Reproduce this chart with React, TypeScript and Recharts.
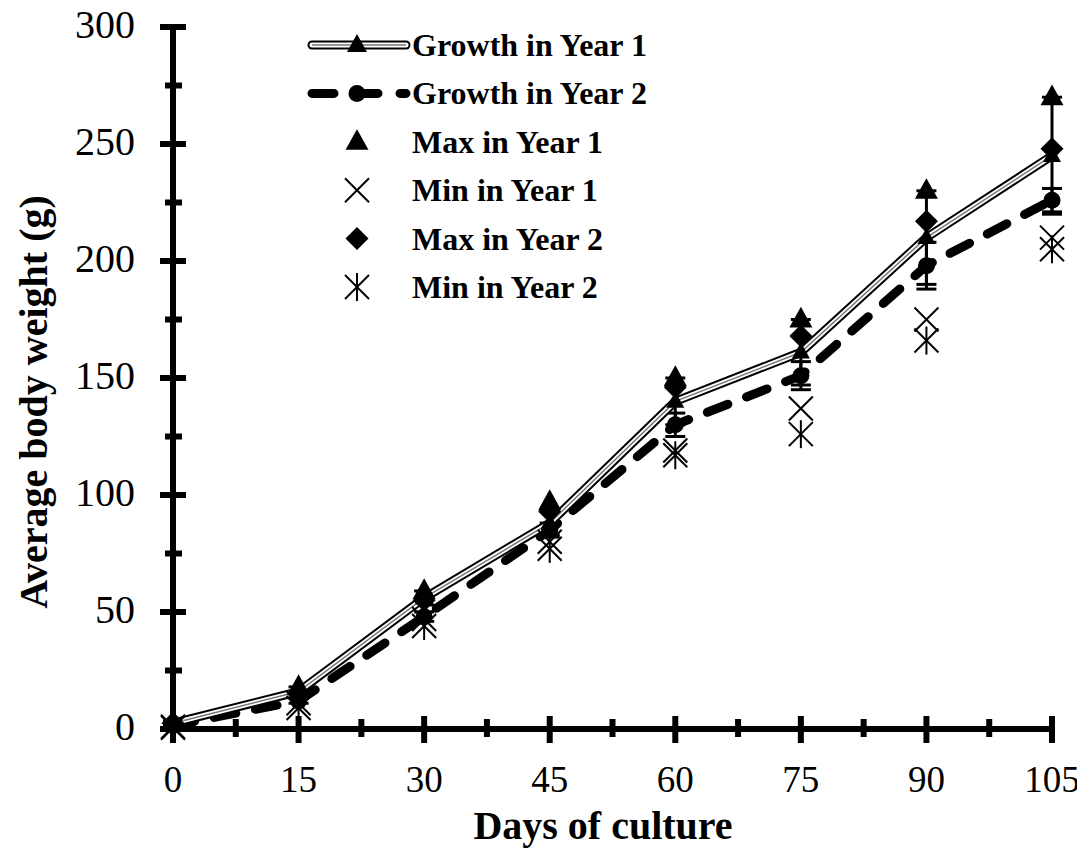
import React from 'react';
import { ComposedChart, Line, XAxis, YAxis, ErrorBar, Legend, Label } from 'recharts';

const FONT = '"Liberation Serif", "Times New Roman", serif';

// days of culture
const days = [0, 15, 30, 45, 60, 75, 90, 105];

// mean body weight (g) and error
const growthYear1 = [2.5, 16, 56, 88, 140, 161, 210, 245];
const growthYear2 = [1.5, 12, 48, 85, 130, 151, 198, 226];
const errYear1 = [1, 2, 3, 5, 10, 14, 20, 25];
const errYear2 = [0.5, 1, 2, 3, 5, 6, 10, 5];

// extremes
const maxYear1 = [3, 18, 59, 97, 150, 175, 230, 270];
const minYear1 = [1, 11, 47, 80, 119, 137, 175, 210];
const maxYear2 = [2.5, 15, 55, 93, 146, 168, 217, 248];
const minYear2 = [0.5, 9, 44, 77, 117, 126, 166, 205];

const xTicks = [0, 7.5, 15, 22.5, 30, 37.5, 45, 52.5, 60, 67.5, 75, 82.5, 90, 97.5, 105];
const xLabels = [0, 15, 30, 45, 60, 75, 90, 105];
const yTicks = [0, 25, 50, 75, 100, 125, 150, 175, 200, 225, 250, 275, 300];
const yLabels = [0, 50, 100, 150, 200, 250, 300];

const legendNames = ['Growth in Year 1', 'Growth in Year 2', 'Max in Year 1', 'Min in Year 1', 'Max in Year 2', 'Min in Year 2'];
const legendKinds = ['line1', 'line2', 'tri', 'cross', 'diamond', 'star'];

const data = days.map((d, i) => ({
  day: d,
  g1: growthYear1[i],
  g2: growthYear2[i],
  e1: errYear1[i],
  e2: errYear2[i],
  max1: maxYear1[i],
  min1: minYear1[i],
  max2: maxYear2[i],
  min2: minYear2[i],
}));

const shape = (kind: string, cx: number, cy: number, s: number) => {
  const h = s / 2;
  if (kind === 'tri')
    return <polygon points={`${cx},${cy - s * 0.55} ${cx - h},${cy + s * 0.35} ${cx + h},${cy + s * 0.35}`} fill="#000" />;
  if (kind === 'diamond')
    return <polygon points={`${cx},${cy - h} ${cx + h},${cy} ${cx},${cy + h} ${cx - h},${cy}`} fill="#000" />;
  if (kind === 'circle') return <circle cx={cx} cy={cy} r={h} fill="#000" />;
  const lines = [
    <line key="a" x1={cx - h} y1={cy - h} x2={cx + h} y2={cy + h} stroke="#000" strokeWidth={2} />,
    <line key="b" x1={cx - h} y1={cy + h} x2={cx + h} y2={cy - h} stroke="#000" strokeWidth={2} />,
  ];
  if (kind === 'star') lines.push(<line key="c" x1={cx} y1={cy - h - 2} x2={cx} y2={cy + h + 2} stroke="#000" strokeWidth={2} />);
  return <g>{lines}</g>;
};

const makeDot = (kind: string, size: number) => (props: any) => {
  const { cx, cy, index } = props;
  if (cx == null || cy == null) return <g key={`${kind}-${index}`} />;
  return <g key={`${kind}-${index}`}>{shape(kind, cx, cy, size)}</g>;
};

const XTick = (props: any) => {
  const { x, y, payload } = props;
  const major = xLabels.includes(payload.value);
  return (
    <g>
      <line x1={x} x2={x} y1={y - (major ? 13 : 10)} y2={y + (major ? 14 : 8)} stroke="#000" strokeWidth={6} />
      {major && (
        <text x={x} y={y + 63} textAnchor="middle" fontSize={37} fontFamily={FONT} fill="#000">
          {payload.value}
        </text>
      )}
    </g>
  );
};

const YTick = (props: any) => {
  const { x, y, payload } = props;
  const major = yLabels.includes(payload.value);
  return (
    <g>
      <line x1={x - (major ? 13 : 8)} x2={x + (major ? 13 : 9)} y1={y} y2={y} stroke="#000" strokeWidth={6} />
      {major && (
        <text x={x - 38} y={y + 11} textAnchor="end" fontSize={40} fontFamily={FONT} fill="#000">
          {payload.value}
        </text>
      )}
    </g>
  );
};

const LegendBox = () => {
  const rowY = (i: number) => 25 + i * 48.4;
  return (
    <svg width={380} height={290} style={{ overflow: 'visible' }}>
      {legendNames.map((name, i) => {
        const y = rowY(i);
        const kind = legendKinds[i];
        let sample: React.ReactNode;
        if (kind === 'line1') {
          sample = (
            <g>
              <line x1={12} x2={106} y1={y} y2={y} stroke="#000" strokeWidth={9} strokeLinecap="round" />
              <line x1={12} x2={106} y1={y} y2={y} stroke="#fff" strokeWidth={5} strokeLinecap="round" />
              <line x1={12} x2={106} y1={y} y2={y} stroke="#777" strokeWidth={1.5} />
              {shape('tri', 57, y, 20)}
            </g>
          );
        } else if (kind === 'line2') {
          sample = (
            <g>
              <line x1={12} x2={106} y1={y} y2={y} stroke="#000" strokeWidth={9} strokeLinecap="round" strokeDasharray="22 22" />
              {shape('circle', 57, y, 17)}
            </g>
          );
        } else {
          sample = shape(kind, 57, y, kind === 'tri' || kind === 'diamond' ? 23 : 24);
        }
        return (
          <g key={name}>
            {sample}
            <text x={112} y={y + 11} fontSize={32} fontWeight="bold" fontFamily={FONT} fill="#000">
              {name}
            </text>
          </g>
        );
      })}
    </svg>
  );
};

export default function App() {
  return (
    <div style={{ margin: -8 }}>
      <ComposedChart
        width={1085}
        height={859}
        data={data}
        margin={{ top: 27, right: 33, bottom: 70, left: 93 }}
      >
        <XAxis
          dataKey="day"
          type="number"
          domain={[0, 105]}
          ticks={xTicks}
          interval={0}
          height={60}
          tickSize={0}
          tickMargin={0}
          tick={<XTick />}
          tickLine={false}
          axisLine={{ stroke: '#000', strokeWidth: 6 }}
        >
          <Label
            content={() => (
              <text x={603} y={839} textAnchor="middle" fontSize={40} fontWeight="bold" fontFamily={FONT} fill="#000">
                Days of culture
              </text>
            )}
          />
        </XAxis>
        <YAxis
          type="number"
          domain={[0, 300]}
          ticks={yTicks}
          interval={0}
          width={80}
          tickSize={0}
          tickMargin={0}
          tick={<YTick />}
          tickLine={false}
          axisLine={{ stroke: '#000', strokeWidth: 6 }}
        >
          <Label
            content={() => (
              <text
                x={47}
                y={402}
                transform="rotate(-90 47 402)"
                textAnchor="middle"
                fontSize={40}
                fontWeight="bold"
                fontFamily={FONT}
                fill="#000"
              >
                Average body weight (g)
              </text>
            )}
          />
        </YAxis>
        <Legend
          layout="vertical"
          align="center"
          verticalAlign="middle"
          content={<LegendBox />}
          wrapperStyle={{ top: 20, left: 300, width: 380, height: 290 }}
        />

        {/* Year 2 dashed growth line */}
        <Line
          dataKey="g2"
          stroke="#000"
          strokeWidth={9}
          strokeDasharray="22 20"
          strokeLinecap="round"
          dot={makeDot('circle', 17)}
          activeDot={false}
          isAnimationActive={false}
          legendType="none"
        >
          <ErrorBar dataKey="e2" direction="y" width={10} stroke="#000" strokeWidth={3} />
        </Line>

        {/* Year 1 double growth line */}
        <Line dataKey="g1" stroke="#000" strokeWidth={9} dot={false} activeDot={false} isAnimationActive={false} legendType="none">
          <ErrorBar dataKey="e1" direction="y" width={10} stroke="#000" strokeWidth={3} />
        </Line>
        <Line dataKey="g1" stroke="#fff" strokeWidth={5} dot={false} activeDot={false} isAnimationActive={false} legendType="none" />
        <Line
          dataKey="g1"
          stroke="#777"
          strokeWidth={1.5}
          dot={makeDot('tri', 18)}
          activeDot={false}
          isAnimationActive={false}
          legendType="none"
        />

        {/* extremes, markers only */}
        <Line dataKey="max1" stroke="none" dot={makeDot('tri', 23)} activeDot={false} isAnimationActive={false} legendType="none" />
        <Line dataKey="min1" stroke="none" dot={makeDot('cross', 24)} activeDot={false} isAnimationActive={false} legendType="none" />
        <Line dataKey="max2" stroke="none" dot={makeDot('diamond', 23)} activeDot={false} isAnimationActive={false} legendType="none" />
        <Line dataKey="min2" stroke="none" dot={makeDot('star', 24)} activeDot={false} isAnimationActive={false} legendType="none" />
      </ComposedChart>
    </div>
  );
}
